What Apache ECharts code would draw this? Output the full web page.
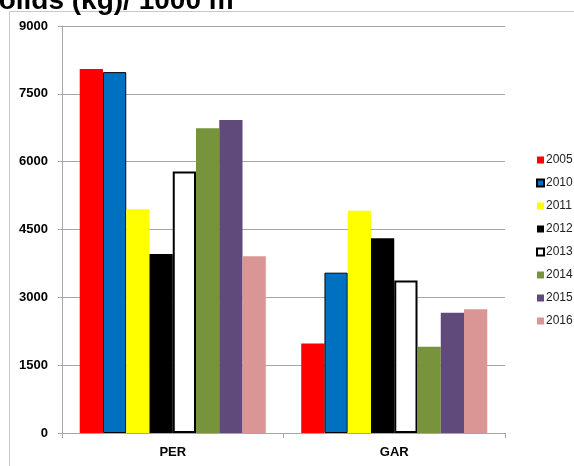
<!DOCTYPE html>
<html>
<head>
<meta charset="utf-8">
<script src="https://cdn.jsdelivr.net/npm/echarts@6/dist/echarts.min.js"></script>
<style>html,body{margin:0;padding:0;background:#fff}#c{width:574px;height:466px}</style>
</head>
<body>
<div id="c"></div>
<script>
const categories = ['PER', 'GAR'];
const years = ['2005', '2010', '2011', '2012', '2013', '2014', '2015', '2016'];
const v2005 = [8050, 1980];
const v2010 = [7980, 3545];
const v2011 = [4950, 4915];
const v2012 = [3960, 4305];
const v2013 = [5780, 3370];
const v2014 = [6740, 1910];
const v2015 = [6920, 2660];
const v2016 = [3910, 2735];
const yTicks = [0, 1500, 3000, 4500, 6000, 7500, 9000];
const titleText = 'Solids (kg)/ 1000 m';

const seriesValues = [v2005, v2010, v2011, v2012, v2013, v2014, v2015, v2016];
const colors = ['#ff0000', '#0070c0', '#ffff00', '#000000', '#ffffff', '#77933c', '#604a7b', '#d99694'];
const borders = [
  {w: 0, c: 'transparent'}, {w: 1, c: '#000'}, {w: 0, c: 'transparent'}, {w: 0, c: 'transparent'},
  {w: 2, c: '#000'}, {w: 0, c: 'transparent'}, {w: 0, c: 'transparent'}, {w: 0, c: 'transparent'}
];

const chart = echarts.init(document.getElementById('c'), null, {renderer: 'canvas'});
chart.setOption({
  animation: false,
  backgroundColor: '#fff',
  graphic: [
    {type: 'rect', shape: {x: 9.5, y: 11.5, width: 700, height: 600}, style: {fill: 'none', stroke: '#c8c8c8', lineWidth: 1}, z: -1},
    {type: 'text', x: -20, y: 15, style: {text: titleText, font: 'bold 28px "Liberation Sans", Arial, sans-serif', fill: '#000', textVerticalAlign: 'bottom'}}
  ],
  legend: {
    orient: 'vertical',
    left: 536,
    top: 154,
    padding: 0,
    itemWidth: 7,
    itemHeight: 7,
    itemGap: 11,
    icon: 'rect',
    data: years,
    textStyle: {fontSize: 12, color: '#222', fontFamily: '"Liberation Sans", Arial, sans-serif', padding: [0, 0, 0, -3]}
  },
  grid: {left: 62, right: 69, top: 26, bottom: 33, containLabel: false},
  xAxis: {
    type: 'category',
    data: categories,
    boundaryGap: true,
    axisLine: {lineStyle: {color: '#a6a6a6', width: 1}},
    axisTick: {show: true, length: 5, lineStyle: {color: '#a6a6a6'}},
    axisLabel: {fontSize: 13, fontWeight: 'bold', color: '#000', margin: 13, fontFamily: '"Liberation Sans", Arial, sans-serif'}
  },
  yAxis: {
    type: 'value',
    min: yTicks[0],
    max: yTicks[yTicks.length - 1],
    interval: yTicks[1] - yTicks[0],
    axisLine: {show: true, lineStyle: {color: '#a6a6a6', width: 1}},
    axisTick: {show: true, length: 4, lineStyle: {color: '#a6a6a6'}},
    splitLine: {lineStyle: {color: '#a6a6a6', width: 1}},
    axisLabel: {fontSize: 13, fontWeight: 'bold', color: '#000', margin: 14, fontFamily: '"Liberation Sans", Arial, sans-serif', formatter: v => String(v)}
  },
  series: years.map((y, i) => ({
    name: y,
    type: 'bar',
    data: seriesValues[i],
    barGap: '0%',
    barCategoryGap: '16%',
    itemStyle: {color: colors[i], borderColor: borders[i].c, borderWidth: borders[i].w}
  }))
});
</script>
</body>
</html>
